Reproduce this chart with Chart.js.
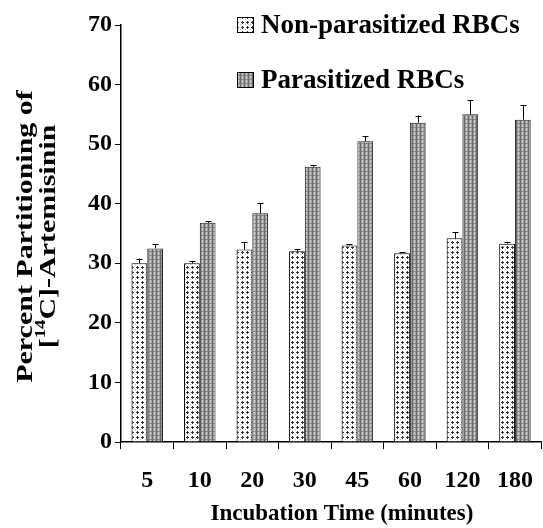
<!DOCTYPE html>
<html>
<head>
<meta charset="utf-8">
<script src="https://cdn.jsdelivr.net/npm/chart.js@4/dist/chart.umd.min.js"></script>
<style>
html,body{margin:0;padding:0;background:#fff;overflow:hidden;}
#wrap{width:550px;height:528px;}
</style>
</head>
<body>
<div id="wrap"><canvas id="c" width="550" height="528"></canvas></div>
<script>
const categories = ['5', '10', '20', '30', '45', '60', '120', '180'];
const nonParasitized = [30.0, 30.0, 32.3, 32.0, 33.0, 31.7, 34.2, 33.3];
const nonParasitizedErr = [0.8, 0.4, 1.3, 0.4, 0.2, 0.2, 1.0, 0.2];
const parasitized = [32.5, 36.8, 38.4, 46.2, 50.5, 53.6, 55.0, 54.1];
const parasitizedErr = [0.7, 0.3, 1.7, 0.3, 0.8, 1.2, 2.4, 2.4];
const seriesNames = ['Non-parasitized RBCs', 'Parasitized RBCs'];
const xTitle = 'Incubation Time (minutes)';
const yTitleLine1 = 'Percent Partitioning of';
const yTitleLine2 = ['[', '14', 'C]-Artemisinin'];

const FONT = "'Liberation Serif', 'Times New Roman', serif";

function dotPattern(ctx) {
  const c = document.createElement('canvas');
  c.width = 5; c.height = 5;
  const g = c.getContext('2d');
  g.fillStyle = '#ffffff'; g.fillRect(0, 0, 5, 5);
  g.fillStyle = '#333333';
  g.fillRect(2, 1, 1, 3);
  g.fillRect(1, 2, 3, 1);
  g.fillStyle = '#bbbbbb';
  g.fillRect(0, 4, 1, 1);
  return ctx.createPattern(c, 'repeat');
}
function gridPattern(ctx) {
  const c = document.createElement('canvas');
  c.width = 4; c.height = 4;
  const g = c.getContext('2d');
  g.fillStyle = '#a0a0a0'; g.fillRect(0, 0, 4, 4);
  g.fillStyle = '#6a6a6a'; g.fillRect(0, 0, 1, 4);
  g.fillStyle = '#cccccc'; g.fillRect(2, 0, 1, 4);
  g.fillStyle = '#858585'; g.fillRect(1, 3, 3, 1);
  return ctx.createPattern(c, 'repeat');
}

const canvas = document.getElementById('c');
const ctx0 = canvas.getContext('2d');
const patNon = dotPattern(ctx0);
const patPar = gridPattern(ctx0);

const errorBars = {
  id: 'errorBars',
  afterDatasetsDraw(chart) {
    const ctx = chart.ctx;
    const y = chart.scales.y;
    const errs = [nonParasitizedErr, parasitizedErr];
    ctx.save();
    ctx.strokeStyle = '#000';
    ctx.lineWidth = 1;
    chart.data.datasets.forEach((ds, di) => {
      const meta = chart.getDatasetMeta(di);
      meta.data.forEach((el, i) => {
        const v = ds.data[i];
        const top = y.getPixelForValue(v + errs[di][i]);
        const x = Math.round(el.x) + 0.5;
        ctx.beginPath();
        ctx.moveTo(x, el.y);
        ctx.lineTo(x, top);
        ctx.moveTo(x - 3, Math.round(top) + 0.5);
        ctx.lineTo(x + 3, Math.round(top) + 0.5);
        ctx.stroke();
      });
    });
    ctx.restore();
  }
};

const customText = {
  id: 'customText',
  afterDraw(chart) {
    const ctx = chart.ctx;
    ctx.save();
    // legend
    const pats = [patNon, patPar];
    const rows = [25, 80];
    ctx.font = 'bold 27px ' + FONT;
    ctx.textBaseline = 'middle';
    seriesNames.forEach((name, i) => {
      const cy = rows[i];
      ctx.fillStyle = pats[i];
      ctx.fillRect(237, cy - 8, 17, 16);
      ctx.strokeStyle = '#000';
      ctx.lineWidth = 1;
      ctx.strokeRect(237.5, cy - 7.5, 16, 15);
      ctx.fillStyle = '#000';
      ctx.fillText(name, 261, cy + 1);
    });
    // x title
    ctx.textAlign = 'center';
    ctx.textBaseline = 'alphabetic';
    ctx.font = 'bold 23px ' + FONT;
    ctx.fillText(xTitle, 342, 520);
    ctx.restore();

    // y title (rotated, slightly stretched along the text)
    ctx.save();
    const area = chart.chartArea;
    const cy = (area.top + area.bottom) / 2 + 3;
    ctx.translate(0, cy);
    ctx.rotate(-Math.PI / 2);
    ctx.scale(1.25, 1);
    ctx.fillStyle = '#000';
    ctx.textAlign = 'center';
    ctx.textBaseline = 'alphabetic';
    const big = 'bold 24px ' + FONT, small = 'bold 15px ' + FONT;
    ctx.font = big;
    ctx.fillText(yTitleLine1, 0, 32);
    const w1 = ctx.measureText(yTitleLine2[0]).width;
    const w3 = ctx.measureText(yTitleLine2[2]).width;
    ctx.font = small; const w2 = ctx.measureText(yTitleLine2[1]).width;
    let x = -(w1 + w2 + w3) / 2;
    ctx.textAlign = 'left';
    ctx.font = big; ctx.fillText(yTitleLine2[0], x, 55); x += w1;
    ctx.font = small; ctx.fillText(yTitleLine2[1], x, 45); x += w2;
    ctx.font = big; ctx.fillText(yTitleLine2[2], x, 55);
    ctx.restore();
  }
};

new Chart(canvas, {
  type: 'bar',
  data: {
    labels: categories,
    datasets: [
      { label: seriesNames[0], data: nonParasitized, backgroundColor: patNon, borderColor: '#000', borderWidth: 1, barPercentage: 1.0, categoryPercentage: 0.6 },
      { label: seriesNames[1], data: parasitized, backgroundColor: patPar, borderColor: '#222', borderWidth: 1, barPercentage: 1.0, categoryPercentage: 0.6 }
    ]
  },
  options: {
    responsive: false,
    animation: false,
    layout: { padding: { top: 25, right: 1, left: 0, bottom: 0 } },
    plugins: { legend: { display: false }, tooltip: { enabled: false } },
    scales: {
      x: {
        grid: { display: true, drawOnChartArea: false, drawTicks: true, tickLength: 7, color: '#000', lineWidth: 1, offset: true },
        border: { display: true, color: '#000', width: 1.5 },
        ticks: { color: '#000', font: { family: FONT, size: 24, weight: 'bold' }, padding: 17 },
        title: { display: false },
        afterFit(s) { s.height = 86; }
      },
      y: {
        min: 0, max: 70,
        ticks: { stepSize: 10, color: '#000', font: { family: FONT, size: 24, weight: 'bold' }, padding: 3 },
        grid: { display: true, drawOnChartArea: false, drawTicks: true, tickLength: 6, color: '#000' },
        border: { display: true, color: '#000', width: 1.5 },
        afterFit(s) { s.width = 121; }
      }
    }
  },
  plugins: [errorBars, customText]
});
</script>
</body>
</html>
